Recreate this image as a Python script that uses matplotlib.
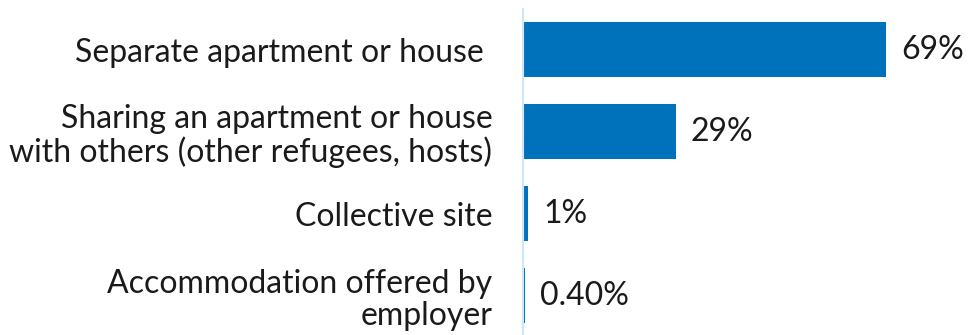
import matplotlib.pyplot as plt

categories = [
    "Separate apartment or house ",
    "Sharing an apartment or house\nwith others (other refugees, hosts)",
    "Collective site",
    "Accommodation offered by\nemployer",
]
values = [69, 29, 1, 0.4]
value_labels = ["69%", "29%", "1%", "0.40%"]

plt.rcParams['font.family'] = ['Lato', 'DejaVu Sans']

fig = plt.figure(figsize=(9.68, 3.35), dpi=100)
ax = fig.add_axes([523 / 968, -0.0045, 445 / 968, 0.979])

y = range(len(categories))
ax.barh(y, values, height=0.67, color='#0072BC')

for i, (v, lab) in enumerate(zip(values, value_labels)):
    ax.text(v + 2.9, i, lab, va='center', ha='left', fontsize=23, color='#1a1a1a')

ax.set_xlim(0, 84.6)
ax.set_ylim(3.5, -0.5)
ax.set_yticks(list(y))
ax.set_yticklabels(categories, fontsize=23, color='#1a1a1a', linespacing=1.12)
ax.tick_params(axis='y', length=0, pad=22)
ax.set_xticks([])

for s in ['top', 'right', 'bottom']:
    ax.spines[s].set_visible(False)
ax.spines['left'].set_color('#cfe6f6')
ax.spines['left'].set_linewidth(1.5)

fig.savefig('out.png', dpi=100)
